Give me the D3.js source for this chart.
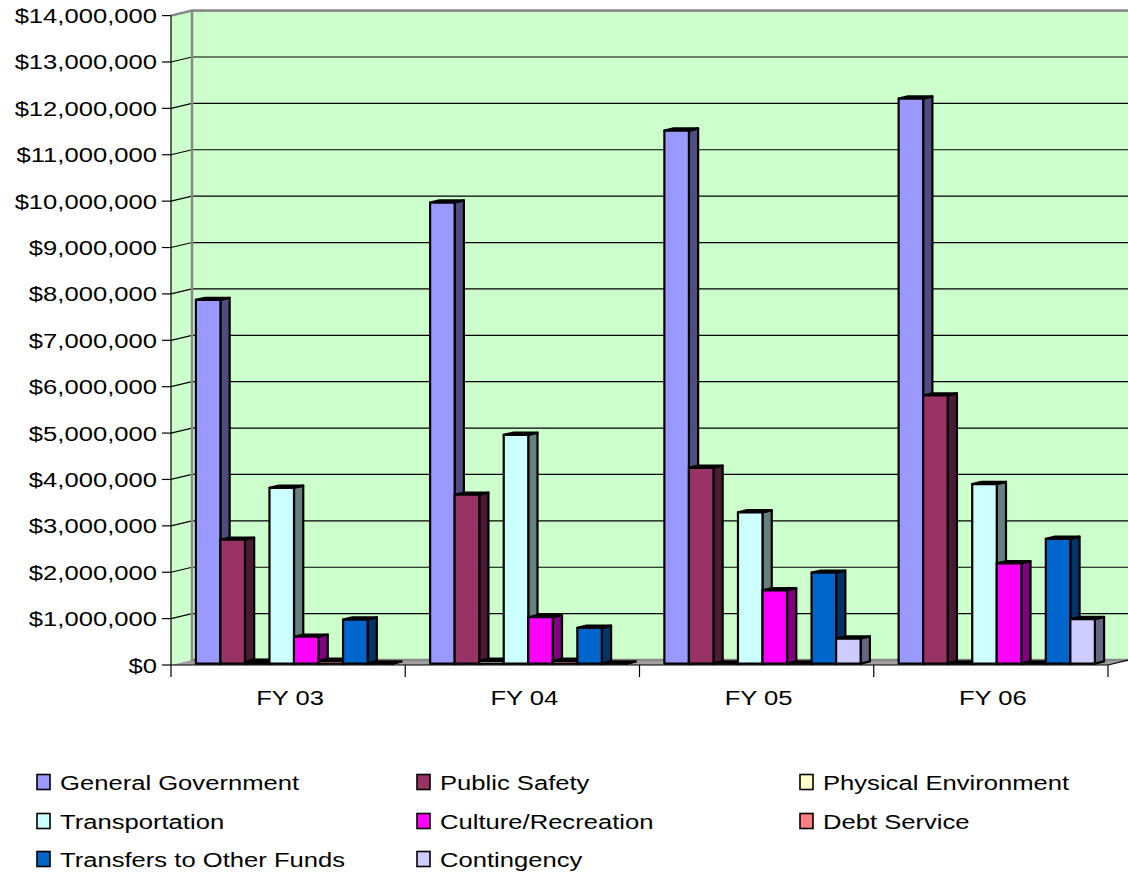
<!DOCTYPE html>
<html>
<head>
<meta charset="utf-8">
<script src="https://cdn.jsdelivr.net/npm/d3@7"></script>
<style>
  html, body { margin: 0; padding: 0; background: #ffffff; }
  svg { display: block; }
  text { font-family: "Liberation Sans", Arial, sans-serif; fill: #000; }
</style>
</head>
<body>
<svg id="chart" width="1128" height="880"></svg>
<script>
// Fiscal years shown on the category axis
const categories = ["FY 03", "FY 04", "FY 05", "FY 06"];

// Expenditure series (dollars), one value per fiscal year
const seriesNames = [
  "General Government", "Public Safety", "Physical Environment", "Transportation",
  "Culture/Recreation", "Debt Service", "Transfers to Other Funds", "Contingency"
];
const generalGovernment = [7840000, 9940000, 11490000, 12180000];
const publicSafety      = [2670000, 3640000, 4220000, 5780000];
const physicalEnv       = [40000, 60000, 0, 0];
const transportation    = [3790000, 4930000, 3260000, 3870000];
const cultureRecreation = [580000, 1000000, 1580000, 2160000];
const debtService       = [60000, 60000, 0, 0];
const transfersOut      = [950000, 770000, 1960000, 2690000];
const contingency       = [0, 0, 540000, 960000];

const seriesValues = [
  generalGovernment, publicSafety, physicalEnv, transportation,
  cultureRecreation, debtService, transfersOut, contingency
];

// Y axis tick values
const yTicks = d3.range(0, 14000001, 1000000);

// Face colours: front, side/top
const frontColors = ["#9999FF", "#993366", "#FFFFCC", "#CCFFFF", "#FF00FF", "#FF8080", "#0066CC", "#CCCCFF"];
const sideColors  = ["#4D4D80", "#4D1A33", "#808066", "#668080", "#800080", "#804040", "#003366", "#666680"];

(function draw() {
  const svg = d3.select("#chart");
  const font = 21, sx = 1.22;

  // Plot geometry (front plane) and 3D depth offset
  const pLeft = 171, pRight = 1108, pBase = 665, pTop = 15.6;
  const depthX = 21, depthY = -5;
  const P = (x, y, f) => [x + f * depthX, y + f * depthY];

  const y = d3.scaleLinear().domain([0, 14000000]).range([pBase, pTop]);
  const x0 = d3.scaleBand().domain(categories).range([pLeft, pRight]).padding(0);
  const x1 = d3.scaleBand().domain(seriesNames).range([19, x0.bandwidth() - 19]).padding(0);

  const line = d3.line();
  const poly = pts => line(pts) + "Z";

  // Back wall
  const backL = pLeft + depthX, backTop = y(14000000) + depthY, backBot = pBase + depthY;
  svg.append("rect").attr("x", backL).attr("y", backTop).attr("width", 1160 - backL)
    .attr("height", backBot - backTop).attr("fill", "#CCFFCC");

  // Left side wall
  svg.append("path").attr("d", poly([[pLeft, pTop], P(pLeft, pTop, 1), P(pLeft, pBase, 1), [pLeft, pBase]]))
    .attr("fill", "#CCFFCC");

  // Gridlines on both walls
  yTicks.forEach(t => {
    if (t === 0) return;
    const yy = y(t);
    svg.append("path").attr("d", line([[pLeft, yy], P(pLeft, yy, 1), [1160, yy + depthY]]))
      .attr("fill", "none").attr("stroke", "#000").attr("stroke-width", 1.2);
  });

  // Floor
  svg.append("path").attr("d", poly([[pLeft, pBase], [pRight, pBase], P(pRight, pBase, 1), [1160, pBase + depthY], P(pLeft, pBase, 1)]))
    .attr("fill", "#A0A0A0");

  // Wall borders
  svg.append("path").attr("d", line([[pLeft, pTop], P(pLeft, pTop, 1), [1160, backTop]]))
    .attr("fill", "none").attr("stroke", "#888").attr("stroke-width", 2.5);
  svg.append("path").attr("d", line([P(pLeft, pTop, 1), P(pLeft, pBase, 1), [1160, backBot]]))
    .attr("fill", "none").attr("stroke", "#888").attr("stroke-width", 2.5);

  // Bars
  const f0 = 0.28, f1 = 0.72;
  categories.forEach((c, ci) => {
    seriesNames.forEach((s, si) => {
      const v = seriesValues[si][ci];
      const xl = x0(c) + x1(s), xr = xl + x1.bandwidth();
      const yt = y(v), yb = y(0);
      const g = svg.append("g").attr("stroke", "#000").attr("stroke-width", 2.2).attr("stroke-linejoin", "round");
      // side face
      g.append("path").attr("d", poly([P(xr, yt, f0), P(xr, yt, f1), P(xr, yb, f1), P(xr, yb, f0)]))
        .attr("fill", sideColors[si]);
      // top face
      g.append("path").attr("d", poly([P(xl, yt, f0), P(xl, yt, f1), P(xr, yt, f1), P(xr, yt, f0)]))
        .attr("fill", sideColors[si]);
      // front face
      if (v > 0) {
        g.append("path").attr("d", poly([P(xl, yt, f0), P(xr, yt, f0), P(xr, yb, f0), P(xl, yb, f0)]))
          .attr("fill", frontColors[si]);
      }
    });
  });

  // Front axes
  svg.append("line").attr("x1", pLeft).attr("x2", pLeft).attr("y1", pTop).attr("y2", pBase)
    .attr("stroke", "#000").attr("stroke-width", 1.2);
  svg.append("line").attr("x1", pLeft).attr("x2", pRight).attr("y1", pBase).attr("y2", pBase)
    .attr("stroke", "#000").attr("stroke-width", 1.2);
  svg.append("path").attr("d", line([[pRight, pBase], P(pRight, pBase, 1)]))
    .attr("stroke", "#000").attr("stroke-width", 1.2).attr("fill", "none");

  // Y ticks and labels
  const fmt = d3.format("$,.0f");
  yTicks.forEach(t => {
    const yy = y(t);
    svg.append("line").attr("x1", pLeft - 9).attr("x2", pLeft).attr("y1", yy).attr("y2", yy)
      .attr("stroke", "#000").attr("stroke-width", 1.2);
    svg.append("text").attr("text-anchor", "end").attr("font-size", font)
      .attr("transform", `translate(157,${yy + 7.5}) scale(${sx},1)`).text(fmt(t));
  });

  // X ticks and labels
  const xBounds = categories.map(c => x0(c)).concat([pRight]);
  xBounds.forEach(xx => {
    svg.append("line").attr("x1", xx).attr("x2", xx).attr("y1", pBase).attr("y2", pBase + 12)
      .attr("stroke", "#000").attr("stroke-width", 1.2);
  });
  categories.forEach(c => {
    svg.append("text").attr("text-anchor", "middle").attr("font-size", font)
      .attr("transform", `translate(${x0(c) + x0.bandwidth() / 2 + 2},705) scale(${sx},1)`).text(c);
  });

  // Legend (three columns)
  const legCols = [37, 417, 800], legRows = [782, 821, 859];
  seriesNames.forEach((s, i) => {
    const cx = legCols[i % 3], cy = legRows[Math.floor(i / 3)];
    svg.append("rect").attr("x", cx).attr("y", cy - 7.5).attr("width", 13).attr("height", 15)
      .attr("fill", frontColors[i]).attr("stroke", "#000").attr("stroke-width", 1.6);
    svg.append("text").attr("font-size", font)
      .attr("transform", `translate(${cx + 23},${cy + 7.5}) scale(${sx},1)`).text(s);
  });
})();
</script>
</body>
</html>
